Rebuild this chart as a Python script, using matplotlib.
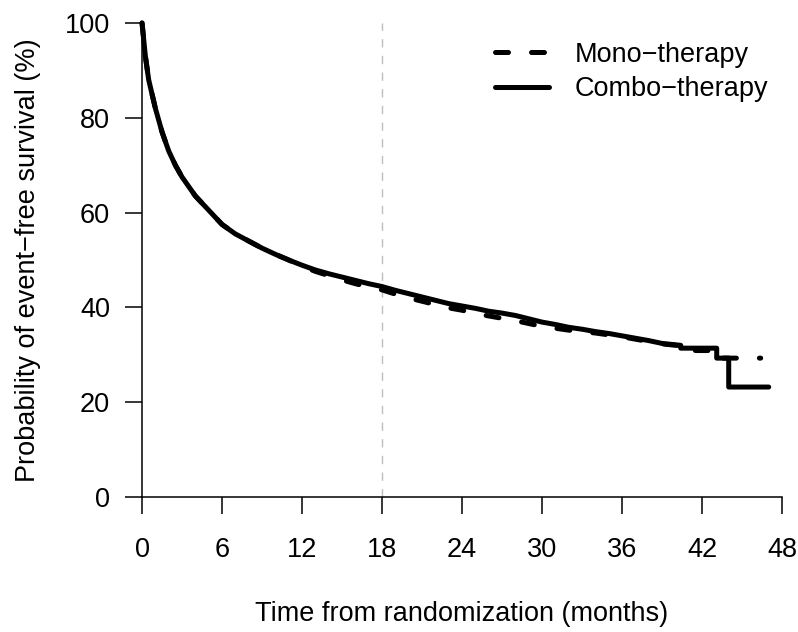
import matplotlib
matplotlib.use("Agg")
import matplotlib.pyplot as plt

plt.rcParams['font.family'] = ['Liberation Sans', 'DejaVu Sans']

# Kaplan-Meier style curves (months, % event-free)
combo_t = [0, 0.25, 0.5, 0.75, 1, 1.5, 2, 2.5, 3, 3.5, 4, 5, 6, 7, 8, 9, 10, 11,
           12, 13, 14, 15, 16, 17, 18, 19, 20, 21, 22, 23, 24, 25, 26, 27, 28, 29,
           30, 31, 32, 33, 34, 35, 36, 37, 38, 39, 40.4, 40.4, 43.1, 43.1, 44.0, 44.0, 47.0]
combo_s = [100, 93, 88, 85, 82, 77, 73, 70, 67.5, 65.5, 63.5, 60.5, 57.5, 55.5, 54, 52.5, 51.2, 50,
           48.9, 47.9, 47.1, 46.4, 45.7, 45.0, 44.4, 43.6, 42.9, 42.2, 41.5, 40.8, 40.3, 39.8, 39.2, 38.8, 38.3, 37.6,
           36.9, 36.4, 35.8, 35.4, 34.9, 34.5, 34.0, 33.5, 33.0, 32.4, 32.0, 31.4, 31.4, 29.3, 29.3, 23.2, 23.2]

mono_t = [0, 0.25, 0.5, 0.75, 1, 1.5, 2, 2.5, 3, 3.5, 4, 5, 6, 7, 8, 9, 10, 11,
          12, 13, 14, 15, 16, 17, 18, 19, 20, 21, 22, 23, 24, 25, 26, 27, 28, 29,
          30, 31, 32, 33, 34, 35, 36, 37, 38, 39, 40.4, 40.4, 41.5, 41.5, 43.1, 43.1, 46.4]
mono_s = [100, 93, 88, 85, 82, 77, 73, 70, 67.5, 65.5, 63.5, 60.5, 57.5, 55.5, 54, 52.5, 51.2, 50,
          48.7, 47.6, 46.7, 45.8, 45.0, 44.3, 43.7, 42.8, 42.0, 41.3, 40.6, 39.9, 39.4, 38.7, 38.2, 37.7, 37.2, 36.6,
          36.0, 35.6, 35.2, 34.9, 34.6, 34.2, 33.8, 33.3, 32.8, 32.3, 31.9, 31.2, 31.2, 30.9, 30.9, 29.3, 29.3]

x_ticks = [0, 6, 12, 18, 24, 30, 36, 42, 48]
y_ticks = [0, 20, 40, 60, 80, 100]
landmark = 18

FS = 19.5

fig = plt.figure(figsize=(7.98, 6.32), dpi=100)
ax = fig.add_axes([0.178, 0.2136, 0.802, 0.75])

ax.axvline(landmark, color='#bebebe', lw=1.0, dashes=(6, 6), zorder=1)
ax.plot(mono_t, mono_s, color='black', lw=3.6, dashes=(2.6, 4.6),
        dash_capstyle='round', solid_joinstyle='round',
        label='Mono\u2212therapy', clip_on=False, zorder=2)
ax.plot(combo_t, combo_s, color='black', lw=3.6, solid_capstyle='round',
        solid_joinstyle='round', label='Combo\u2212therapy', clip_on=False, zorder=3)

ax.set_xlim(0, 48)
ax.set_ylim(0, 100)
ax.set_xticks(x_ticks)
ax.set_yticks(y_ticks)
for s in ['top', 'right']:
    ax.spines[s].set_visible(False)
for s in ['left', 'bottom']:
    ax.spines[s].set_linewidth(1.1)
ax.tick_params(direction='out', length=12, width=1.1, labelsize=FS)
ax.tick_params(axis='x', pad=17)
ax.tick_params(axis='y', pad=11)

ax.set_xlabel('Time from randomization (months)', fontsize=FS, labelpad=27)
ax.set_ylabel('Probability of event\u2212free survival (%)', fontsize=FS, labelpad=17)

leg = ax.legend(loc='upper left', bbox_to_anchor=(0.5516, 0.96), frameon=False,
                fontsize=FS, handlelength=2.0, handletextpad=0.95, labelspacing=0.3,
                borderpad=0, borderaxespad=0)

fig.savefig('out.png', dpi=100)
